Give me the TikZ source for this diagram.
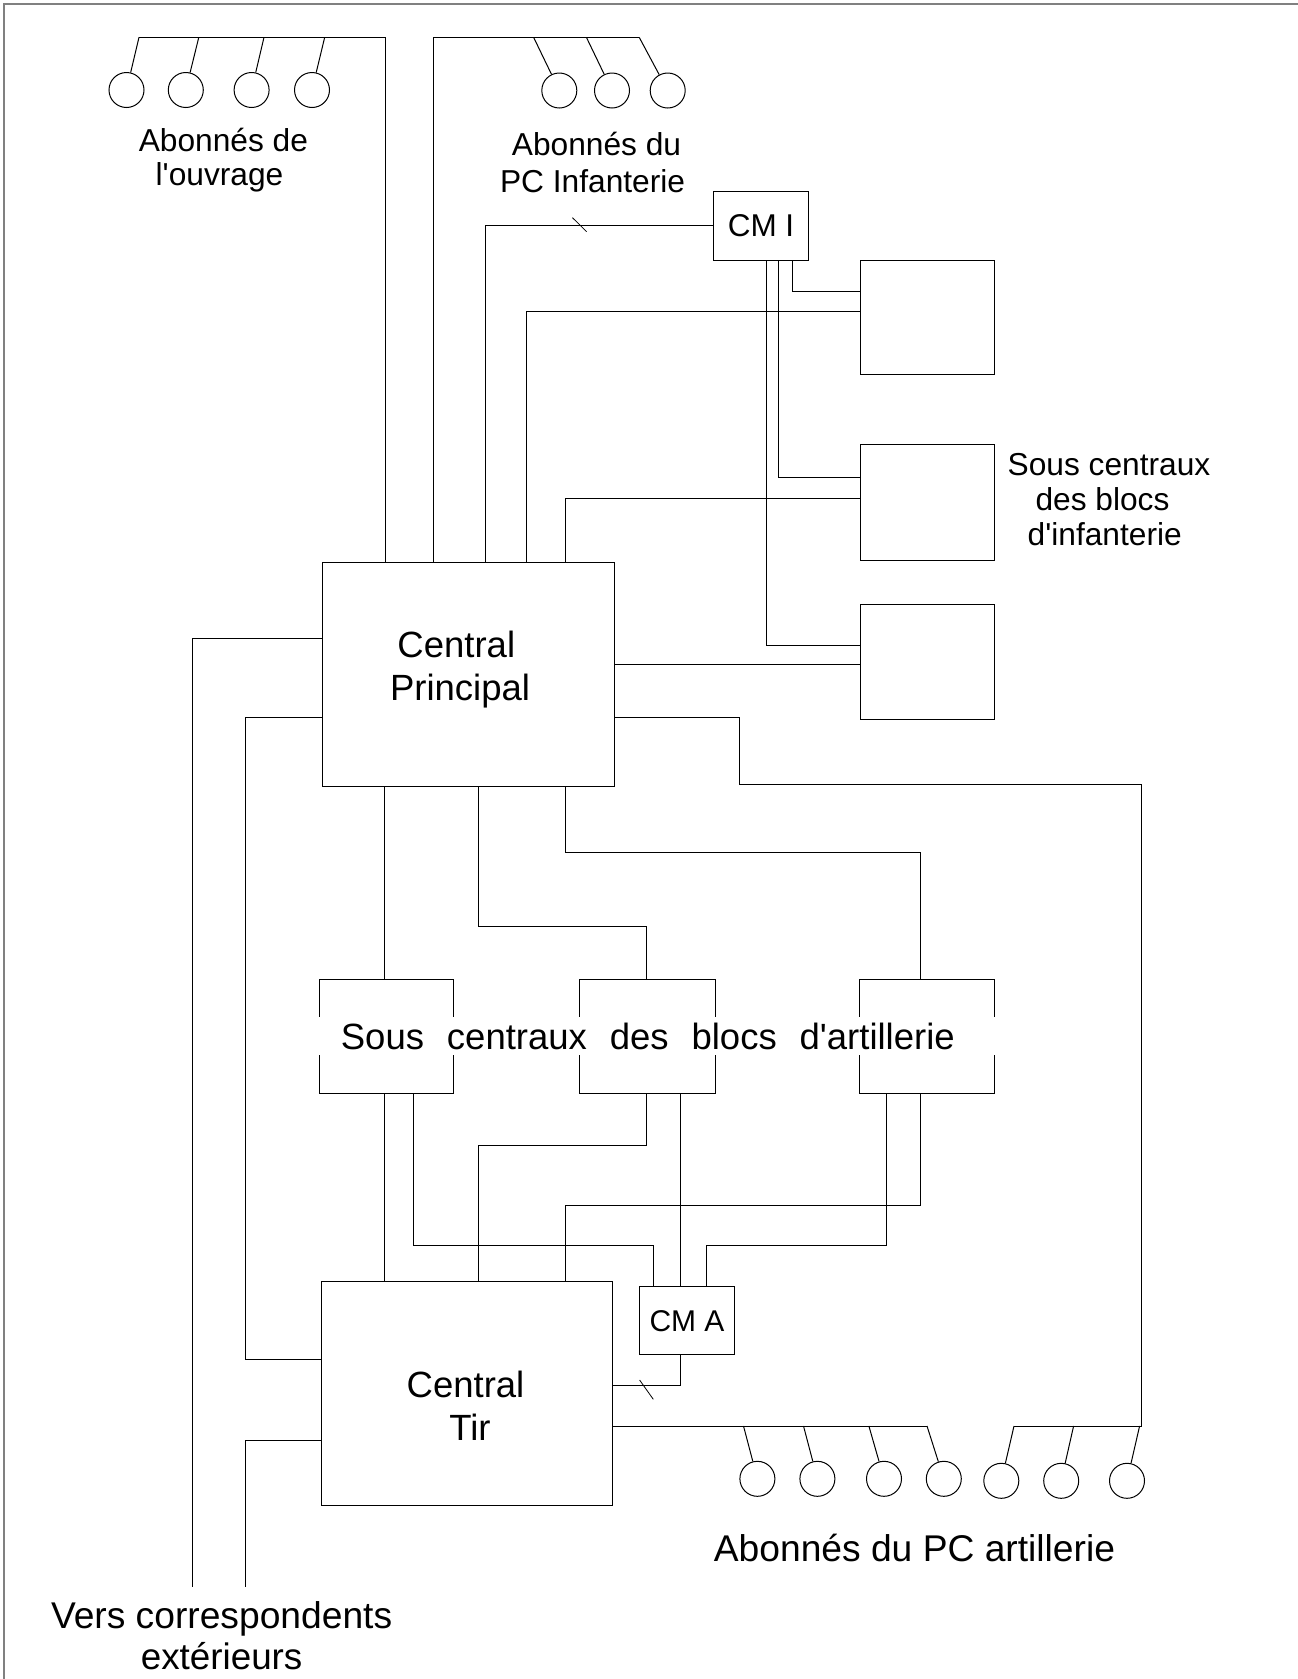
\documentclass[tikz,border=0pt]{standalone}
\usepackage{fontspec}
\setmainfont{Liberation Sans}[Ligatures=TeXOff]
\begin{document}
\begin{tikzpicture}[x=1pt,y=-1pt, line width=1pt,
  box/.style={draw, rectangle, inner sep=0pt, anchor=center},
  sub/.style={draw, circle, minimum size=35pt, inner sep=0pt},
  lbl/.style={anchor=base, inner sep=0pt},
  fsmall/.style={font=\fontsize{31.7}{35}\selectfont},
  fbig/.style={font=\fontsize{36.5}{42}\selectfont},
  flarge/.style={font=\fontsize{37.2}{42}\selectfont},
  frame/.style={draw=gray, line width=2pt},
  tick/.style={line width=0.8pt}
]
\useasboundingbox (0,0) rectangle (1298,1679);
\coordinate (fa) at (4,1679);
\coordinate (fb) at (4,4);
\coordinate (fc) at (1298,4);
\draw[frame] (fa) -- (fb) -- (fc);

% main boxes
\node[box, minimum width=291.3pt, minimum height=224pt] (cp) at (468.6,674.3) {};
\node[box, minimum width=291.3pt, minimum height=224pt] (ct) at (466.8,1393.3) {};
\node[box, minimum width=95.3pt, minimum height=69pt, font=\fontsize{31.5}{35}\selectfont] (cmi) at (761,225.5) {CM I};
\node[box, minimum width=95pt, minimum height=68.3pt, font=\fontsize{30}{34}\selectfont] (cma) at (687,1320.8) {CM A};
\node[box, minimum width=134pt, minimum height=114.3pt] (bi1) at (927,317.2) {};
\node[box, minimum width=134pt, minimum height=116pt] (bi2) at (927,502) {};
\node[box, minimum width=134pt, minimum height=114.7pt] (bi3) at (927,661.7) {};
\node[box, minimum width=134pt, minimum height=114.7pt] (ba1) at (386.7,1036.4) {};
\node[box, minimum width=136pt, minimum height=114.7pt] (ba2) at (647.2,1036.4) {};
\node[box, minimum width=134.5pt, minimum height=114.7pt] (ba3) at (926.8,1036.4) {};

% label across the artillery sub-centrals
\node[anchor=base west, fill=white, inner xsep=0pt, inner ysep=5.3pt, text height=27.3pt, text depth=0pt, fbig] (bat) at (316.4,1049.3)
  {\hspace*{24pt}Sous\hspace{22.9pt}centraux\hspace{22.9pt}des\hspace{22.9pt}blocs\hspace{22.9pt}d'artillerie\hspace*{44pt}};

% subscribers: ouvrage
\foreach \n/\x/\bx in {1/126.5/139,2/185.8/198.8,3/251.6/264,4/312/324.7}{
  \node[sub] (o\n) at (\x,90) {};
  \coordinate (oa\n) at (\bx,37.3);
  \draw (oa\n) -- (o\n);
}
\draw (oa1) -- (385,37.3) -- (385,0 |- cp.north);

% subscribers: PC infanterie
\foreach \n/\x/\bx in {1/559.3/533.6,2/612/586.4,3/667.7/639.2}{
  \node[sub] (i\n) at (\x,90.5) {};
  \coordinate (ia\n) at (\bx,37.3);
  \draw (ia\n) -- (i\n);
}
\draw (433,0 |- cp.north) -- (433,37.3) -- (ia3);

% CM I links
\draw (cmi.west) -| (485.2,0 |- cp.north);
\coordinate (tk1a) at (572.5,217.7);
\coordinate (tk1b) at (586.6,231.7);
\draw[tick] (tk1a) -- (tk1b);
\draw (526,0 |- cp.north) |- (bi1.west |- 0,311.3);
\draw (565,0 |- cp.north) |- (bi2.west |- 0,498.3);
\draw (792.9,0 |- cmi.south) |- (bi1.west |- 0,291.7);
\draw (778.7,0 |- cmi.south) |- (bi2.west |- 0,477);
\draw (766.5,0 |- cmi.south) |- (bi3.west |- 0,645);

% Central Principal right side
\coordinate (abR) at (1141,1426);
\coordinate (abM) at (1014,1426);
\coordinate (abL) at (927,1426);
\draw (cp.east |- 0,664.5) -- (bi3.west |- 0,664.5);
\draw (cp.east |- 0,717.5) -| (739.8,784.3) -| (abR) -- (abM);

% Central Principal left side
\coordinate (vl1) at (192.3,1586.7);
\coordinate (vl2) at (245.4,1586.7);
\draw (cp.west |- 0,638.3) -| (vl1);
\draw (cp.west |- 0,717.7) -| (245.4,1359) -- (ct.west |- 0,1359);
\draw (ct.west |- 0,1440.3) -| (vl2);

% Central Principal bottom
\draw (384.7,0 |- cp.south) -- (384.7,0 |- ba1.north);
\draw (478.3,0 |- cp.south) |- (646.5,926.3) -- (646.5,0 |- ba2.north);
\draw (565,0 |- cp.south) |- (920,852) -- (920,0 |- ba3.north);

% artillery sub-centrals to Central Tir / CM A
\draw (384.7,0 |- ba1.south) -- (384.7,0 |- ct.north);
\draw (413.5,0 |- ba1.south) |- (653.3,1245.7) -- (653.3,0 |- cma.north);
\draw (646.5,0 |- ba2.south) |- (478.7,1145) -- (478.7,0 |- ct.north);
\draw (680.2,0 |- ba2.south) -- (680.2,0 |- cma.north);
\draw (886.4,0 |- ba3.south) |- (706.6,1245.7) -- (706.6,0 |- cma.north);
\draw (920,0 |- ba3.south) |- (565,1205) -- (565,0 |- ct.north);

% CM A to Central Tir
\draw (680.2,0 |- cma.south) |- (ct.east |- 0,1385.7);
\coordinate (tk2a) at (639.6,1380);
\coordinate (tk2b) at (653.3,1399.3);
\draw[tick] (tk2a) -- (tk2b);

% artillery subscribers bus
\draw (ct.east |- abL) -- (abL);
\foreach \n/\x/\y/\bx in {1/757.4/1478.8/743.5,2/817.4/1478.8/803.5,3/884/1478.8/868.9,4/943.8/1478.8/927,
                        5/1001.3/1480.8/1014,6/1061.2/1480.8/1073.6,7/1127/1480.8/1139.6}{
  \node[sub] (a\n) at (\x,\y) {};
  \coordinate (aa\n) at (\bx,1426);
  \draw (aa\n) -- (a\n);
}

% texts
\node[lbl,fsmall] (touv1) at (223.4,151.7) {Abonnés de};
\node[lbl,fsmall] (touv2) at (219.5,185) {l'ouvrage};
\node[lbl,fsmall] (tinf1) at (596.5,155) {Abonnés du};
\node[lbl,fsmall] (tinf2) at (592.6,192.7) {PC Infanterie};
\node[lbl,fsmall] (tbi1) at (1109,475) {Sous centraux};
\node[lbl,fsmall] (tbi2) at (1102.5,510) {des blocs};
\node[lbl,fsmall] (tbi3) at (1104.7,545) {d'infanterie};
\node[lbl,fbig] (tcp1) at (456.3,657.3) {Central};
\node[lbl,fbig] (tcp2) at (460,700) {Principal};
\node[lbl,fbig] (tct1) at (465.5,1397.7) {Central};
\node[lbl,fbig] (tct2) at (470,1440) {Tir};
\node[lbl,flarge] (tart) at (914.5,1561) {Abonnés du PC artillerie};
\node[lbl,flarge] (tv1) at (221.6,1628.3) {Vers correspondents};
\node[lbl,font=\fontsize{36.8}{42}\selectfont] (tv2) at (221.6,1669) {extérieurs};
\end{tikzpicture}
\end{document}
